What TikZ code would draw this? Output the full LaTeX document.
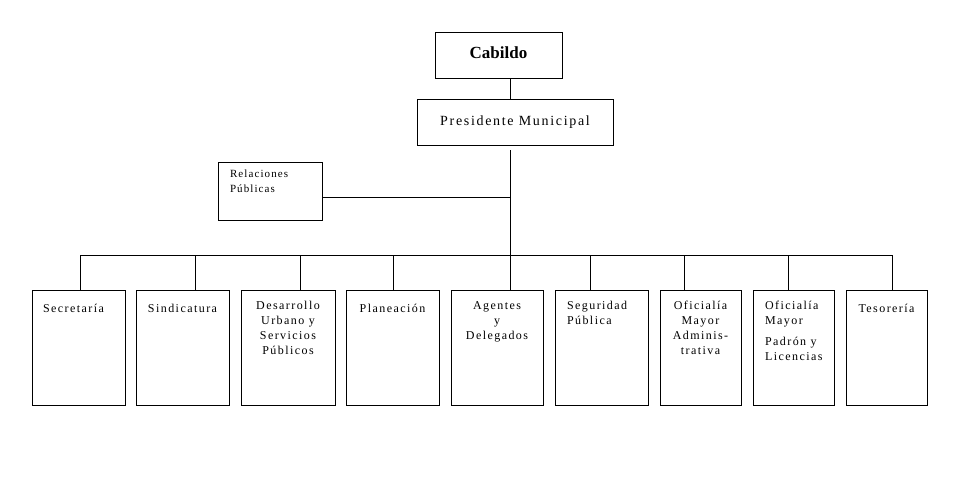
\documentclass[tikz,border=0pt]{standalone}
\usepackage{fontspec}
\setmainfont{Liberation Serif}
\newfontfamily\unitfont[LetterSpace=12]{Liberation Serif}
\newfontfamily\relfont[LetterSpace=10]{Liberation Serif}
\newfontfamily\headfont[LetterSpace=12]{Liberation Serif}
\usetikzlibrary{positioning}

\begin{document}
\begin{tikzpicture}[x=1pt, y=-1pt, line width=0.9pt,
  unit/.style={draw, rectangle, inner sep=0pt, minimum height=115pt},
  unittxt/.style={inner sep=0pt, align=center, font=\unitfont\fontsize{12}{15}\selectfont, execute at begin node=\strut}]
  \useasboundingbox (0,0) rectangle (959,479);

  % Top of the chart
  \node[draw, minimum width=127pt, minimum height=46pt, text depth=5pt, font=\bfseries\fontsize{17}{19}\selectfont] (cab) at (498.5,55) {Cabildo};
  \node[draw, minimum width=196pt, minimum height=46pt, font=\headfont\fontsize{14}{16}\selectfont] (pres) at (515,122.5) {Presidente Municipal};

  % Staff unit
  \node[draw, minimum width=104pt, minimum height=58pt] (rel) at (270,191) {};
  \node[unittxt, align=left, font=\relfont\fontsize{11}{15}\selectfont, below right=7.5pt and 12pt of rel.north west] (reltxt) {Relaciones\\Públicas};

  % Junctions
  \coordinate (stem) at (510,150);
  \coordinate (relj) at (510,197);
  \coordinate (busc) at (510,255);

  % Units
  \node[unit, minimum width=93pt] (secr) at (78.5,347.5) {};
  \node[unit, minimum width=93pt] (sind) at (182.5,347.5) {};
  \node[unit, minimum width=94pt] (desa) at (288,347.5) {};
  \node[unit, minimum width=93pt] (plan) at (392.5,347.5) {};
  \node[unit, minimum width=92pt] (agen) at (497,347.5) {};
  \node[unit, minimum width=93pt] (segu) at (601.5,347.5) {};
  \node[unit, minimum width=81pt] (ofad) at (700.5,347.5) {};
  \node[unit, minimum width=81pt] (ofpa) at (793.5,347.5) {};
  \node[unit, minimum width=81pt] (teso) at (886.5,347.5) {};

  \node[unittxt, align=left, below right=11.5pt and 11pt of secr.north west] {Secretaría};
  \node[unittxt, below=11.5pt of sind.north] {Sindicatura};
  \node[unittxt, below=11.5pt of desa.north] {Desarrollo\\Urbano y\\Servicios\\Públicos};
  \node[unittxt, below=11.5pt of plan.north] {Planeación};
  \node[unittxt, below=11.5pt of agen.north] {Agentes\\y\\Delegados};
  \node[unittxt, align=left, below right=11.5pt and 12pt of segu.north west] {Seguridad\\Pública};
  \node[unittxt, below=11.5pt of ofad.north] {Oficialía\\Mayor\\Adminis-\\trativa};
  \node[unittxt, align=left, below right=11.5pt and 12pt of ofpa.north west] {Oficialía\\Mayor\\[6pt]Padrón y\\Licencias};
  \node[unittxt, below=11.5pt of teso.north] {Tesorería};

  % Drop points on the bus
  \coordinate (d1) at (80,255);
  \coordinate (d2) at (195,255);
  \coordinate (d3) at (300,255);
  \coordinate (d4) at (393,255);
  \coordinate (d5) at (510,255);
  \coordinate (d6) at (590,255);
  \coordinate (d7) at (684,255);
  \coordinate (d8) at (788,255);
  \coordinate (d9) at (892,255);

  % Connectors
  \draw (busc |- cab.south) -- (busc |- pres.north);
  \draw (stem) -- (busc);
  \draw (rel.east |- relj) -- (relj);
  \draw (d1) -- (d9);
  \foreach \d/\u in {d1/secr, d2/sind, d3/desa, d4/plan, d5/agen, d6/segu, d7/ofad, d8/ofpa, d9/teso}
    \draw (\d) -- (\d |- \u.north);
\end{tikzpicture}
\end{document}
